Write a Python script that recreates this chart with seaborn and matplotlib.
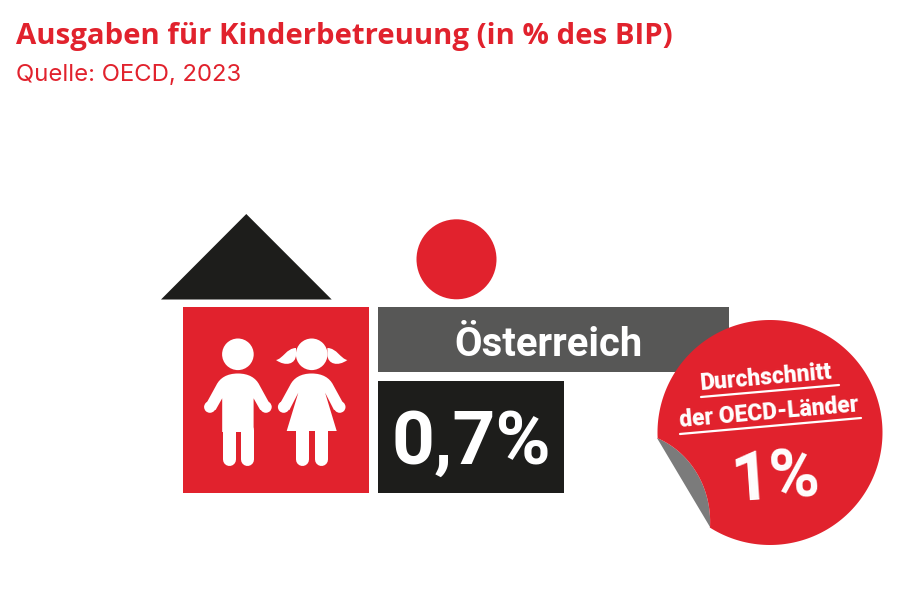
import numpy as np
import pandas as pd
import matplotlib
matplotlib.use("Agg")
import matplotlib.pyplot as plt
from matplotlib.patches import Circle, Polygon, PathPatch, Rectangle
from matplotlib.path import Path
import seaborn as sns

# values
laender = ["Österreich"]
anteil_bip = [0.7]
oecd_label = ["Durchschnitt", "der OECD-Länder"]
oecd_wert = [1]
titel = "Ausgaben für Kinderbetreuung (in % des BIP)"
quelle = "Quelle: OECD, 2023"

ROT = "#e1222d"
SCHWARZ = "#1d1d1b"
GRAU = "#575756"
FALTE = "#7b7b7b"

sns.set_theme(style="white")
plt.rcParams["font.family"] = ["Roboto", "DejaVu Sans"]

fig = plt.figure(figsize=(9.05, 6.03), dpi=100)
# whole figure in pixels, y going down, easier for the pictogram
ax = fig.add_axes([0, 0, 1, 1])
ax.axis("off")


def person(cx, maedchen=False):
    weiss = dict(color="white", lw=0, zorder=5)
    ax.add_patch(Circle((cx, 354.3), 15.8, **weiss))
    for s in (-1, 1):
        # arm, hand
        ax.add_patch(Circle((cx + s * 28, 407), 5.8, **weiss))
        # legs
        ax.plot([cx + s * 9.3] * 2, [430, 459.3], color="white", lw=13 * 0.72,
                solid_capstyle="round", zorder=5)
    if maedchen:
        innen = [(cx - 13.4, 392.7), (cx - 25, 431), (cx + 25, 431), (cx + 13.4, 392.7)]
    else:
        innen = [(cx - 15.7, 398.3), (cx - 15.7, 432), (cx + 15.7, 432), (cx + 15.7, 398.3)]
    verts = [(cx, 373.5), (cx - 11, 373.5), (cx - 18, 378), (cx - 21.5, 385),
             (cx - 33.4, 406.7), (cx - 22.3, 410)] + innen + \
            [(cx + 22.3, 410), (cx + 33.4, 406.7), (cx + 21.5, 385),
             (cx + 18, 378), (cx + 11, 373.5), (cx, 373.5), (cx, 373.5)]
    codes = [Path.MOVETO, Path.CURVE4, Path.CURVE4, Path.CURVE4, Path.LINETO, Path.LINETO] + \
            [Path.LINETO] * 4 + [Path.LINETO, Path.LINETO, Path.LINETO,
                                 Path.CURVE4, Path.CURVE4, Path.CURVE4, Path.CLOSEPOLY]
    ax.add_patch(PathPatch(Path(verts, codes), **weiss))
    if maedchen:
        for s in (-1, 1):
            zopf = [(cx + s * 15.7, 348), (cx + s * 25, 348), (cx + s * 29, 359), (cx + s * 35.7, 360),
                    (cx + s * 26, 367), (cx + s * 16, 364), (cx + s * 15.7, 355), (cx + s * 15.7, 348)]
            zopf_codes = [Path.MOVETO] + [Path.CURVE4] * 6 + [Path.CLOSEPOLY]
            ax.add_patch(PathPatch(Path(zopf, zopf_codes), **weiss))


# house
ax.add_patch(Polygon([(246.3, 214), (161, 299.5), (331.7, 299.5)], color=SCHWARZ, lw=0))
ax.add_patch(Rectangle((183.3, 307.3), 186, 185.7, color=ROT, lw=0))
person(237.9)
person(311.7, maedchen=True)

# ball and banner
ax.add_patch(Circle((456.5, 259.3), 40, color=ROT, lw=0))
ax.add_patch(Rectangle((378, 307.3), 351, 64.7, color=GRAU, lw=0))
ax.text(548, 356, laender[0], color="white", fontsize=28.8, fontweight="bold",
        ha="center", va="baseline", zorder=6)

# sticker with the peeled corner
cx, cy, r = 770, 432.5, 112.5
a_start = np.arctan2(527 - cy, 710 - cx)
a_ende = np.arctan2(438 - cy, 657 - cx)
winkel = np.linspace(a_start, a_ende - 2 * np.pi if a_ende > a_start else a_ende, 200)
bogen = np.column_stack([cx + r * np.cos(winkel), cy + r * np.sin(winkel)])
falz = [(657, 438), (690, 452), (712, 487), (710, 527)]
t = np.linspace(0, 1, 50)[:, None]
kurve = ((1 - t) ** 3 * np.array(falz[0]) + 3 * (1 - t) ** 2 * t * np.array(falz[1])
         + 3 * (1 - t) * t ** 2 * np.array(falz[2]) + t ** 3 * np.array(falz[3]))
ax.add_patch(Polygon(kurve, color=FALTE, lw=0, zorder=7))
ax.add_patch(Polygon(np.vstack([bogen, kurve]), color=ROT, lw=0, zorder=7))
ax.plot([701, 839], [397, 385], color="white", lw=1.6, zorder=8)
ax.plot([680, 861], [434, 418], color="white", lw=1.6, zorder=8)
ax.text(767, 384.5, oecd_label[0], color="white", fontsize=16.5, fontweight="black",
        rotation=5, rotation_mode="anchor", ha="center", va="baseline", zorder=8)
ax.text(770, 419, oecd_label[1], color="white", fontsize=16.5, fontweight="black",
        rotation=5, rotation_mode="anchor", ha="center", va="baseline", zorder=8)
ax.text(777, 498, f"{oecd_wert[0]}%", color="white", fontsize=49, fontweight="bold",
        rotation=4, rotation_mode="anchor", ha="center", va="baseline", zorder=8)

# headings
ax.text(16, 44, titel, color=ROT, fontsize=21.2, fontweight="bold", family="Open Sans", va="baseline")
ax.text(16, 81, quelle, color=ROT, fontsize=17.2, family="Inter", va="baseline")

ax.set_xlim(0, 905)
ax.set_ylim(603, 0)

# value block, own axes so the bar runs to its value
ax_bar = fig.add_axes([378 / 905, 1 - 493 / 603, 186 / 905, 112.5 / 603])
df = pd.DataFrame({"land": laender, "anteil": anteil_bip})
sns.barplot(data=df, x="anteil", y="land", color=SCHWARZ, saturation=1, width=1, linewidth=0, ax=ax_bar)
ax_bar.set_xlim(0, anteil_bip[0])
ax_bar.set_ylim(0.5, -0.5)
ax_bar.axis("off")
wert = f"{anteil_bip[0]:.1f}".replace(".", ",") + "%"
ax_bar.text(0.5, 0.26, wert, transform=ax_bar.transAxes, color="white", fontsize=54,
            fontweight="bold", ha="center", va="baseline")

fig.savefig("out.png", dpi=100)
